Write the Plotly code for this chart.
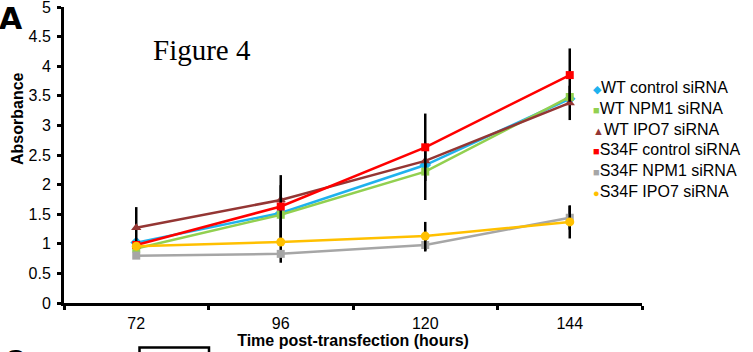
import plotly.graph_objects as go

# Time points (hours post-transfection)
hours = ["72", "96", "120", "144"]

# Mean absorbance per condition
wt_control = [1.02, 1.52, 2.33, 3.45]
wt_npm1 = [0.92, 1.49, 2.22, 3.48]
wt_ipo7 = [1.27, 1.74, 2.40, 3.38]
s34f_control = [0.98, 1.63, 2.63, 3.85]
s34f_npm1 = [0.80, 0.83, 0.98, 1.44]
s34f_ipo7 = [0.96, 1.03, 1.13, 1.37]

# Error bar half-lengths
wt_control_err = [0, 0, 0, 0]
wt_npm1_err = [0, 0.50, 0.48, 0]
wt_ipo7_err = [0.35, 0, 0, 0.29]
s34f_control_err = [0, 0.53, 0.57, 0.45]
s34f_npm1_err = [0, 0.15, 0.11, 0.20]
s34f_ipo7_err = [0, 0, 0.24, 0.28]

names = ["WT control siRNA", "WT NPM1 siRNA", "WT IPO7 siRNA",
         "S34F control siRNA", "S34F NPM1 siRNA", "S34F IPO7 siRNA"]
values = [wt_control, wt_npm1, wt_ipo7, s34f_control, s34f_npm1, s34f_ipo7]
errors = [wt_control_err, wt_npm1_err, wt_ipo7_err,
          s34f_control_err, s34f_npm1_err, s34f_ipo7_err]
colors = ["#1FB2EE", "#92D050", "#943634", "#FF0000", "#A6A6A6", "#FFC000"]
symbols = ["diamond", "square", "triangle-up", "square", "square", "circle"]
sizes = [9, 8, 9, 8, 8, 9]
glyphs = ["◆", "■", "▲", "■", "■", "●"]

W, H = 753, 352
L, R, T, B = 64, 111, 7, 49
PW, PH = W - L - R, H - T - B


def px(x):
    return (x - L) / PW


def py(y):
    return 1 - (y - T) / PH


fig = go.Figure()
for name, vals, err, col, sym, sz in zip(names, values, errors, colors, symbols, sizes):
    fig.add_trace(go.Scatter(
        x=hours, y=vals, name=name, mode="lines+markers",
        line=dict(color=col, width=2.5),
        marker=dict(color=col, symbol=sym, size=sz, line=dict(width=0)),
        error_y=dict(type="data", array=err, visible=True,
                     color="black", thickness=2.5, width=0),
        showlegend=False,
    ))

font_sans = "Liberation Sans, Arial, sans-serif"

fig.update_layout(
    width=W, height=H,
    margin=dict(l=L, r=R, t=T, b=B, pad=0),
    paper_bgcolor="white", plot_bgcolor="white",
    font=dict(family=font_sans, size=16, color="black"),
    xaxis=dict(
        type="category", range=[-0.5, 3.5], tickson="boundaries",
        showline=True, linecolor="black", linewidth=3,
        ticks="outside", ticklen=4, tickwidth=3, tickcolor="black",
        showgrid=False, zeroline=False, automargin=False,
        tickfont=dict(size=16), ticklabelstandoff=4,
        title=dict(text="<b>Time post-transfection (hours)</b>",
                   font=dict(size=16), standoff=2),
    ),
    yaxis=dict(
        range=[0, 5], dtick=0.5, tick0=0,
        showline=True, linecolor="black", linewidth=3,
        ticks="outside", ticklen=4, tickwidth=3, tickcolor="black",
        showgrid=False, zeroline=False, automargin=False,
        tickfont=dict(size=16), ticklabelstandoff=3,
        ticklabeloverflow="allow",
    ),
)

# Legend drawn as a text block with coloured symbols
legend_lines = [
    f"<span style='color:{c};font-size:11px'>{g}</span>{n}"
    for c, g, n in zip(colors, glyphs, names)
]
annotations = [
    dict(text="<br>".join(legend_lines), x=px(591), y=py(139),
         xanchor="left", yanchor="middle", align="left",
         font=dict(family=font_sans, size=16, color="black")),
    dict(text="<b>Absorbance</b>", textangle=-90, x=px(17), y=py(119),
         xanchor="center", yanchor="middle",
         font=dict(family=font_sans, size=16, color="black")),
    dict(text="Figure 4", x=px(151), y=py(50), xanchor="left", yanchor="middle",
         font=dict(family="Liberation Serif, Times New Roman, serif", size=29,
                   color="black")),
    dict(text="<b>A</b>", x=px(-3), y=py(18), xanchor="left", yanchor="middle",
         font=dict(family="DejaVu Sans, Liberation Sans, sans-serif", size=30,
                   color="black")),
    dict(text="<b>C</b>", x=px(3), y=py(342), xanchor="left", yanchor="top",
         font=dict(family=font_sans, size=28, color="black")),
]
for a in annotations:
    a.update(xref="paper", yref="paper", showarrow=False)
fig.update_layout(annotations=annotations)

# Frame of the next panel peeking in at the bottom edge
fig.add_shape(type="rect", xref="paper", yref="paper",
              x0=px(139.5), x1=px(209), y0=py(347.5), y1=py(380),
              line=dict(color="black", width=2.5), fillcolor="rgba(0,0,0,0)")

fig.write_html("out.html")
